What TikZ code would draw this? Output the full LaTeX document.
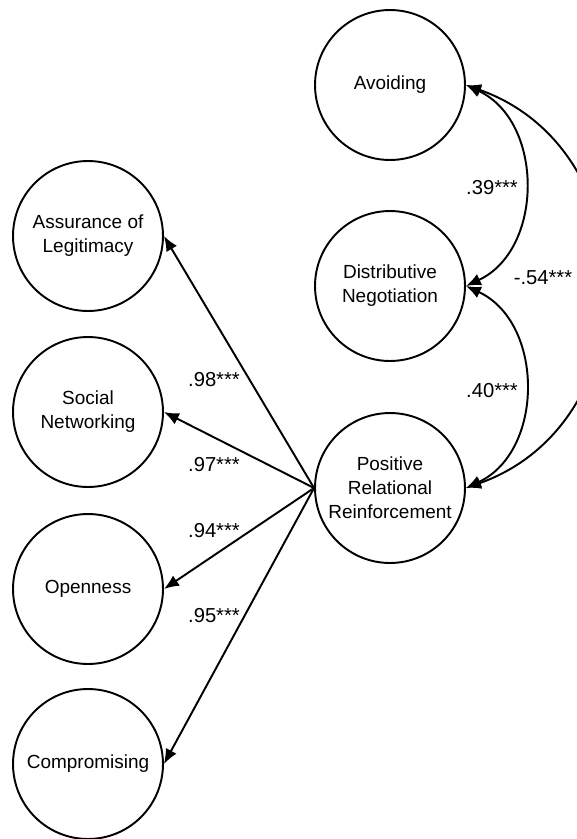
\documentclass[tikz,border=0pt]{standalone}
\usepackage{fontspec}
\setmainfont{Liberation Sans}
\usetikzlibrary{arrows.meta}
\tikzset{
	latent/.style={draw,circle,minimum size=3.0cm,inner sep=0pt,align=center,font=\fontsize{10.8}{13.6}\selectfont},
	coef/.style={font=\fontsize{11.5}{13}\selectfont},
}
\begin{document}
\begin{tikzpicture}[x=0.02cm,y=-0.02cm,line width=1.1pt,>={Latex[length=8.5pt,width=7pt]}]
		\useasboundingbox (0,0) rectangle (576,839);
		% factors on the right
		\node[latent] (avoid) at (390,85) {Avoiding};
		\node[latent] (distr) at (390,286) {Distributive\\Negotiation};
		\node[latent] (prr) at (390,488) {Positive\\Relational\\Reinforcement};
		% factors on the left
		\node[latent] (assur) at (88,236) {Assurance of\\Legitimacy};
		\node[latent] (social) at (88,412) {Social\\Networking};
		\node[latent] (open) at (88,589) {Openness};
		\node[latent] (compro) at (88,764) {Compromising};
		% loadings
		\draw[->] (prr.west) -- (assur.east);
		\draw[->] (prr.west) -- (social.east);
		\draw[->] (prr.west) -- (open.east);
		\draw[->] (prr.west) -- (compro.east);
		\node[coef] (l98) at (214,380) {.98***};
		\node[coef] (l97) at (214,465) {.97***};
		\node[coef] (l94) at (214,531) {.94***};
		\node[coef] (l95) at (214,616) {.95***};
		% correlations
		\draw[<->] (avoid.east) to[bend left=65,looseness=1.1] (distr.east);
		\draw[<->] (distr.east) to[bend left=65,looseness=1.1] (prr.east);
		\draw[<->] (avoid.east) .. controls +(184,65) and +(184,-65) .. (prr.east);
		\node[coef] (l39) at (492,188) {.39***};
		\node[coef] (l40) at (492,391) {.40***};
		\node[coef] (l54) at (543,278) {-.54***};
\end{tikzpicture}
\end{document}
